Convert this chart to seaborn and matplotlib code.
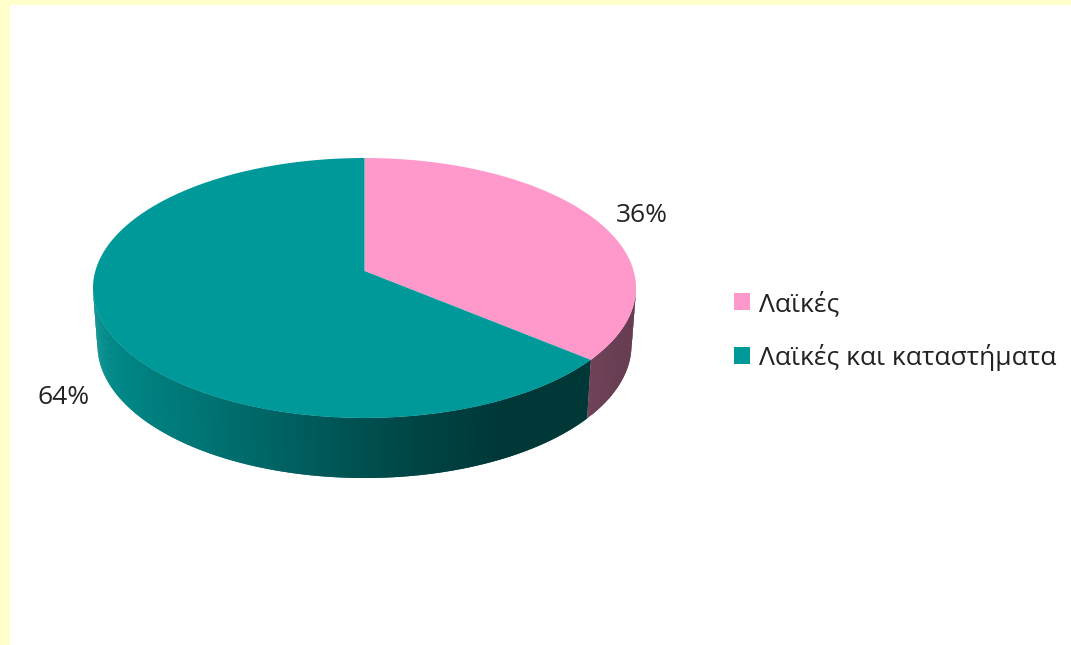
import numpy as np
import matplotlib
matplotlib.use("Agg")
import matplotlib.pyplot as plt
from matplotlib.path import Path
import seaborn as sns

# ---- data ----
categories = ["Λαϊκές", "Λαϊκές και καταστήματα"]
shares = [36, 64]
pct_labels = ["36%", "64%"]

# ---- style ----
top_colors = ["#FF99CC", "#009999"]
page_color = "#FFFFCC"
text_color = "#222222"
wall_pink = ("#6E4257", "#663C52")
# shading of the teal wall across the disc: position (0 left .. 1 right), green/blue level
teal_pos = [0.0, 0.25, 0.49, 0.69, 0.82, 1.0]
teal_level = [140, 112, 85, 65, 56, 56]

sns.set_theme(style="white")
plt.rcParams["font.family"] = ["Open Sans", "DejaVu Sans"]

W, H = 1071, 645
fig = plt.figure(figsize=(W / 100, H / 100), dpi=100, facecolor=page_color)
# white plot area, leaving the pale yellow strip on the left and top
L, T = 10, 5
ax = fig.add_axes([L / W, 0, (W - L) / W, (H - T) / H], facecolor="white")

wedges, _ = ax.pie(shares, startangle=90, counterclock=False, colors=top_colors,
                   radius=1, wedgeprops=dict(linewidth=0))
ax.set_aspect("auto")
ax.set_frame_on(True)
ax.patch.set_facecolor("white")
sns.despine(ax=ax, left=True, right=True, top=True, bottom=True)

# pixel geometry of the tilted disc
cx, cy, rx, ry = 364.5, 288.0, 271.5, 130.0
ax.set_xlim((L - cx) / rx, (W - cx) / rx)
ax.set_ylim((cy - H) / ry, (cy - T) / ry)

# perspective: centre of the disc moves up, rim stays on the ellipse
c = 17 / ry


def tilt(x, y):
    d = 1 + c * y
    return x * np.sqrt(1 - c * c) / d, (y + c) / d


for w in wedges:
    th = np.deg2rad(np.linspace(w.theta1, w.theta2, 240))
    xs = np.r_[0.0, w.r * np.cos(th), 0.0]
    ys = np.r_[0.0, w.r * np.sin(th), 0.0]
    xn, yn = tilt(xs, ys)
    w._path = Path(np.column_stack([xn, yn]), closed=True)
    w.set_zorder(3)

# side wall, derived from the share of the first slice
a = np.deg2rad(90 - 360 * shares[0] / sum(shares))
bx, by = tilt(np.cos(a), np.sin(a))
phi_b = np.arctan2(by, bx)

k, m, drop = 267 / rx, 133 / ry, 57 / ry


def wall(phi0, phi1, color_at, n):
    ph = np.linspace(phi0, phi1, n + 1)
    x_all = np.cos(ph)
    lo, hi = x_all.min(), x_all.max()
    for i in range(n):
        # each strip runs under the next one so no seams show
        s = np.linspace(ph[i], ph[min(i + 2, n)], 4)
        xs = np.r_[np.cos(s), k * np.cos(s[::-1])]
        ys = np.r_[np.sin(s), m * np.sin(s[::-1]) - drop]
        t = (np.cos(ph[i]) - lo) / (hi - lo)
        ax.fill(xs, ys, facecolor=color_at(t), edgecolor="none", lw=0, zorder=1)


def teal_at(t):
    v = np.interp(t, teal_pos, teal_level) / 255
    return (0.0, v, v)


def pink_at(t):
    c0 = np.array(matplotlib.colors.to_rgb(wall_pink[0]))
    c1 = np.array(matplotlib.colors.to_rgb(wall_pink[1]))
    return tuple(c0 + (c1 - c0) * t)


wall(-np.pi, phi_b, teal_at, 400)
wall(phi_b, 0, pink_at, 20)

# percentage labels
for txt, (px, py) in zip(pct_labels, [(642, 215.5), (64, 398)]):
    ax.text((px - cx) / rx, (cy - py) / ry, txt, ha="center", va="center",
            fontsize=19, color=text_color, zorder=5)

# legend
leg = ax.legend(wedges, categories, loc="center left",
                bbox_to_anchor=((734 - L) / (W - L), (H - 331) / (H - T)),
                frameon=False, fontsize=19, handlelength=0.62, handleheight=0.62,
                handletextpad=0.32, labelspacing=1.02, borderpad=0, borderaxespad=0,
                labelcolor=text_color)

fig.savefig("out.png", dpi=100, facecolor=page_color)
